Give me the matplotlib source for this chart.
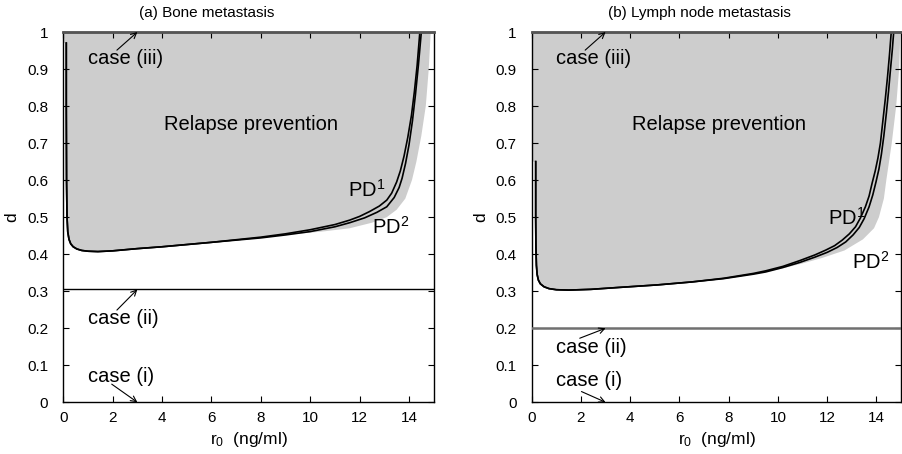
import numpy as np
import matplotlib
matplotlib.use("Agg")
import matplotlib.pyplot as plt
from matplotlib.ticker import FormatStrFormatter

plt.rcParams['font.family'] = ['Liberation Sans', 'DejaVu Sans']
plt.rcParams['mathtext.fontset'] = 'custom'
plt.rcParams['mathtext.rm'] = 'Liberation Sans'
plt.rcParams['mathtext.it'] = 'Liberation Sans'

# (a) bone metastasis: boundary curves PD1 / PD2 (r0 in ng/ml, d)
bone_pd1_x = [0.12, 0.12, 0.13, 0.15, 0.18, 0.23, 0.3, 0.4, 0.55, 0.75, 1.0, 1.4, 2.0, 3.0, 4.0, 5.0,
              6.0, 7.0, 8.0, 9.0, 10.0, 11.0, 11.6, 12.0, 12.4, 12.8, 13.1, 13.3, 13.5, 13.65,
              13.8, 13.95, 14.1, 14.22, 14.33, 14.44]
bone_pd1_d = [0.97, 0.8, 0.6, 0.5, 0.46, 0.44, 0.428, 0.42, 0.414, 0.41, 0.408, 0.407, 0.409, 0.415,
              0.42, 0.426, 0.432, 0.439, 0.446, 0.455, 0.466, 0.48, 0.492, 0.502, 0.515, 0.53,
              0.546, 0.565, 0.595, 0.625, 0.665, 0.715, 0.775, 0.84, 0.91, 1.0]
bone_pd2_x = [0.12, 0.12, 0.13, 0.15, 0.18, 0.23, 0.3, 0.4, 0.55, 0.75, 1.0, 1.4, 2.0, 3.0, 4.0, 5.0,
              6.0, 7.0, 8.0, 9.0, 10.0, 11.0, 11.6, 12.2, 12.7, 13.1, 13.4, 13.6, 13.72, 13.86,
              14.0, 14.14, 14.26, 14.38, 14.5]
bone_pd2_d = [0.97, 0.8, 0.6, 0.5, 0.46, 0.44, 0.428, 0.42, 0.414, 0.41, 0.408, 0.407, 0.409, 0.415,
              0.42, 0.426, 0.432, 0.438, 0.444, 0.452, 0.461, 0.474, 0.485, 0.498, 0.513, 0.528,
              0.553, 0.58, 0.605, 0.645, 0.695, 0.76, 0.83, 0.91, 1.0]
# outer edge of the relapse-prevention region (right / lower side)
bone_region_x = [14.88, 14.8, 14.68, 14.5, 14.3, 14.12, 13.85, 13.5, 13.1, 12.5, 11.6, 10.6, 10.0]
bone_region_d = [1.0, 0.9, 0.8, 0.72, 0.65, 0.6, 0.55, 0.52, 0.5, 0.485, 0.47, 0.462, 0.458]
bone_case2 = 0.305

# (b) lymph node metastasis
lymph_pd1_x = [0.16, 0.16, 0.17, 0.19, 0.22, 0.27, 0.35, 0.5, 0.7, 1.0, 1.5, 2.4, 3.5, 5.1, 6.5, 7.8,
               9.0, 9.5, 10.2, 10.9, 11.5, 11.94, 12.3, 12.61, 12.9, 13.15, 13.35, 13.55, 13.7,
               13.82, 13.95, 14.06, 14.16, 14.26, 14.36, 14.45, 14.53, 14.6]
lymph_pd1_d = [0.65, 0.5, 0.42, 0.37, 0.345, 0.33, 0.32, 0.312, 0.307, 0.304, 0.303, 0.305, 0.31,
               0.317, 0.325, 0.335, 0.348, 0.355, 0.367, 0.383, 0.398, 0.411, 0.423, 0.438, 0.455,
               0.474, 0.498, 0.528, 0.557, 0.591, 0.625, 0.66, 0.7, 0.76, 0.82, 0.88, 0.94, 1.0]
lymph_pd2_x = [0.16, 0.16, 0.17, 0.19, 0.22, 0.27, 0.35, 0.5, 0.7, 1.0, 1.5, 2.4, 3.5, 5.1, 6.5, 7.8,
               9.0, 9.5, 10.2, 10.9, 11.5, 12.0, 12.4, 12.75, 13.05, 13.3, 13.5, 13.7, 13.85,
               13.98, 14.1, 14.2, 14.3, 14.4, 14.49, 14.57, 14.64, 14.7]
lymph_pd2_d = [0.65, 0.5, 0.42, 0.37, 0.345, 0.33, 0.32, 0.312, 0.307, 0.304, 0.303, 0.305, 0.31,
               0.317, 0.325, 0.334, 0.346, 0.352, 0.364, 0.378, 0.392, 0.405, 0.418, 0.433, 0.452,
               0.472, 0.496, 0.528, 0.56, 0.595, 0.63, 0.67, 0.72, 0.78, 0.84, 0.9, 0.95, 1.0]
lymph_region_x = [14.97, 14.92, 14.8, 14.62, 14.4, 14.3, 14.1, 13.9, 13.45, 12.7, 11.8, 11.0, 10.2]
lymph_region_d = [1.0, 0.9, 0.8, 0.7, 0.6, 0.55, 0.5, 0.47, 0.44, 0.41, 0.39, 0.375, 0.362]
lymph_case2 = 0.2

xticks = [0, 2, 4, 6, 8, 10, 12, 14]
yticks = [0, 0.1, 0.2, 0.3, 0.4, 0.5, 0.6, 0.7, 0.8, 0.9, 1.0]

fig = plt.figure(figsize=(9.02, 4.54), dpi=100)
ax_a = fig.add_axes([0.0702, 0.1139, 0.4106, 0.8156])
ax_b = fig.add_axes([0.5895, 0.1139, 0.4095, 0.8156])

panels = [
    dict(ax=ax_a, title='(a) Bone metastasis', title_x=5.82,
         p1=(bone_pd1_x, bone_pd1_d), p2=(bone_pd2_x, bone_pd2_d),
         region=(bone_region_x, bone_region_d), c2=bone_case2,
         c2_color='black', c2_lw=1.0,
         pd1_pos=(11.54, 0.575), pd2_pos=(12.51, 0.474),
         c2_text=0.227, c2_tail=(2.17, 0.249), c1_text=0.069, c1_tail=(1.96, 0.049)),
    dict(ax=ax_b, title='(b) Lymph node metastasis', title_x=6.81,
         p1=(lymph_pd1_x, lymph_pd1_d), p2=(lymph_pd2_x, lymph_pd2_d),
         region=(lymph_region_x, lymph_region_d), c2=lymph_case2,
         c2_color='#707070', c2_lw=1.8,
         pd1_pos=(12.04, 0.497), pd2_pos=(13.02, 0.38),
         c2_text=0.149, c2_tail=(1.95, 0.173), c1_text=0.058, c1_tail=(2.02, 0.029)),
]

arrow = dict(arrowstyle='->', color='black', lw=0.8, shrinkA=0, shrinkB=0)

for p in panels:
    ax = p['ax']
    p1x, p1d = p['p1']
    p2x, p2d = p['p2']
    rx, rd = p['region']
    c2 = p['c2']

    # shaded region: outer edge, then back along PD2 to the left border
    merge = rx[-1]
    back = [(x, d) for x, d in zip(p2x, p2d) if x < merge][::-1]
    poly_x = [0.03] + rx + [b[0] for b in back] + [0.03]
    poly_d = [1.0] + rd + [b[1] for b in back] + [back[-1][1]]
    ax.fill(poly_x, poly_d, color='#cdcdcd', lw=0, zorder=1)

    ax.plot(p1x, p1d, color='black', lw=1.2, zorder=3)
    ax.plot(p2x, p2d, color='black', lw=1.2, zorder=3)
    ax.axhline(c2, color=p['c2_color'], lw=p['c2_lw'], zorder=3)
    ax.axhline(1.0, color='#555555', lw=2.0, zorder=4, clip_on=False)

    ax.set_xlim(0, 15)
    ax.set_ylim(0, 1)
    ax.set_xticks(xticks)
    ax.set_yticks(yticks)
    ax.yaxis.set_major_formatter(FormatStrFormatter('%g'))
    ax.tick_params(direction='in', length=4, width=0.8, top=True, right=True,
                   labelsize=11)
    ax.tick_params(axis='y', pad=11)
    ax.tick_params(axis='x', pad=6)
    for s in ax.spines.values():
        s.set_linewidth(1.0)

    ax.set_xlabel(r'r$_0$  (ng/ml)', fontsize=12.5)
    ax.xaxis.set_label_coords(0.5, -0.075)
    ax.set_ylabel('d', fontsize=12.5)
    ax.yaxis.set_label_coords(-0.118, 0.5)

    ax.text(p['title_x'], 1.05, p['title'], transform=ax.get_xaxis_transform(),
            ha='center', va='center', fontsize=11)
    ax.text(7.6, 0.749, 'Relapse prevention', ha='center', va='center',
            fontsize=14.5, zorder=5)
    ax.text(*p['pd1_pos'], 'PD$^1$', ha='left', va='center', fontsize=14.5, zorder=5)
    ax.text(*p['pd2_pos'], 'PD$^2$', ha='left', va='center', fontsize=14.5, zorder=5)

    ax.annotate('', xy=(3, 1.0), xytext=(2.17, 0.951), arrowprops=arrow, zorder=6)
    ax.text(1.0, 0.929, 'case (iii)', ha='left', va='center', fontsize=14.5, zorder=5)
    ax.annotate('', xy=(3, c2), xytext=p['c2_tail'], arrowprops=arrow, zorder=6)
    ax.text(1.0, p['c2_text'], 'case (ii)', ha='left', va='center', fontsize=14.5, zorder=5)
    ax.annotate('', xy=(3, 0.0), xytext=p['c1_tail'], arrowprops=arrow, zorder=6,
                annotation_clip=False)
    ax.text(1.0, p['c1_text'], 'case (i)', ha='left', va='center', fontsize=14.5, zorder=5)

fig.savefig('out.png', dpi=100)
